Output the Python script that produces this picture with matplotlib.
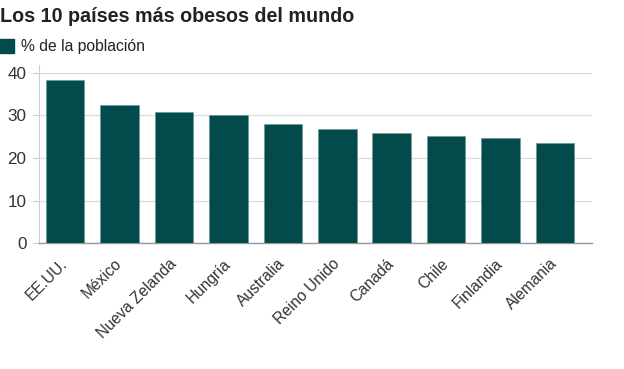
import matplotlib.pyplot as plt
import matplotlib.transforms as mtransforms
from matplotlib.patches import Rectangle

plt.rcParams['font.family'] = ['Liberation Sans', 'DejaVu Sans']

# datos (% de la población con obesidad)
paises = ['EE.UU.', 'México', 'Nueva Zelanda', 'Hungría', 'Australia',
          'Reino Unido', 'Canadá', 'Chile', 'Finlandia', 'Alemania']
obesidad = [38.2, 32.4, 30.7, 30.0, 27.9, 26.9, 25.8, 25.1, 24.8, 23.6]
y_ticks = [0, 10, 20, 30, 40]

color_barra = '#024b4a'
color_texto = '#333333'

fig = plt.figure(figsize=(6.24, 3.69), dpi=100)
ax = fig.add_axes([39 / 624, 1 - 243.3 / 369, (592 - 39) / 624, (243.3 - 65) / 369])

ax.bar(range(len(paises)), obesidad, width=0.71, color=color_barra,
       edgecolor='#5a9a98', linewidth=0.4, zorder=3)

ax.set_xlim(-0.48, len(paises) - 1 + 0.68)
ax.set_ylim(0, 41.8)
ax.set_yticks(y_ticks)
ax.set_xticks(range(len(paises)))
ax.set_xticklabels(paises, rotation=45, ha='right', va='center',
                   rotation_mode='anchor', fontsize=11.2, color=color_texto)
# mover un poco las etiquetas a la derecha
desplazar = mtransforms.ScaledTranslation(3 / 100, 0, fig.dpi_scale_trans)
for lbl in ax.get_xticklabels():
    lbl.set_transform(lbl.get_transform() + desplazar)
ax.tick_params(axis='x', length=0, pad=13)
ax.tick_params(axis='y', length=4, color='#cccccc', pad=5, labelsize=12.3,
               labelcolor=color_texto)
ax.grid(axis='y', color='#dddddd', linewidth=0.9, zorder=0)

for s in ['top', 'right']:
    ax.spines[s].set_visible(False)
ax.spines['left'].set_color('#cccccc')
ax.spines['bottom'].set_color('#999999')
ax.spines['bottom'].set_linewidth(1.0)

# titulo y leyenda
fig.text(0, 1 - 16 / 369, 'Los 10 países más obesos del mundo', fontsize=14.2,
         fontweight='bold', color='#222222', va='center', ha='left')
fig.patches.append(Rectangle((0, 1 - 52.5 / 369), 14 / 624, 13.5 / 369,
                             transform=fig.transFigure, color=color_barra))
fig.text(21 / 624, 1 - 46 / 369, '% de la población', fontsize=11.3,
         color='#222222', va='center', ha='left')

fig.savefig('out.png', dpi=100)
